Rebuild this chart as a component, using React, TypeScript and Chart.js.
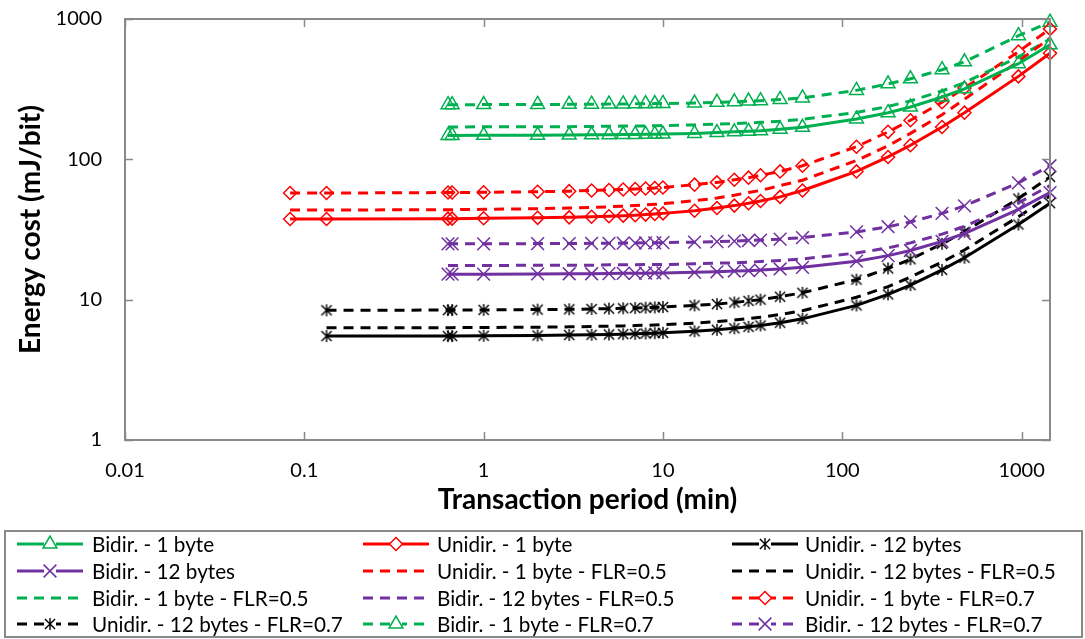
import React, { useEffect, useRef } from 'react';
import { Chart, registerables } from 'chart.js';
import { drawPoint } from 'chart.js/helpers';
Chart.register(...registerables);

// ---- data ----
const xUni1 = [0.0833, 0.133, 0.633, 0.667, 1, 2, 3, 4, 5, 6, 7, 8, 9, 10, 15, 20, 25, 30, 35, 45, 60, 120, 180, 240, 360, 480, 960, 1440];
const xUni12 = [0.133, 0.633, 0.667, 1, 2, 3, 4, 5, 6, 7, 8, 9, 10, 15, 20, 25, 30, 35, 45, 60, 120, 180, 240, 360, 480, 960, 1440];
const xBidir = [0.633, 0.667, 1, 2, 3, 4, 5, 6, 7, 8, 9, 10, 15, 20, 25, 30, 35, 45, 60, 120, 180, 240, 360, 480, 960, 1440];

const bidir1 = [148, 148, 148.3, 148.7, 149, 149.4, 149.7, 150, 150.5, 150.8, 151, 151.5, 153, 155, 157, 158.5, 160, 164, 169, 194, 215, 236, 278, 318, 480, 655];
const uni1 = [37.6, 37.6, 37.8, 37.8, 38, 38.3, 38.6, 39, 39.3, 39.7, 40, 40.4, 40.8, 41.2, 43, 45, 46.8, 48.6, 50.5, 54, 60, 82, 104, 126, 170, 215, 390, 570];
const uni12 = [5.5, 5.5, 5.5, 5.53, 5.56, 5.6, 5.62, 5.65, 5.68, 5.71, 5.74, 5.77, 5.8, 5.95, 6.1, 6.25, 6.4, 6.55, 6.85, 7.3, 9.1, 10.9, 12.7, 16.3, 19.9, 34.3, 48.7];
const bidir12 = [15.2, 15.2, 15.2, 15.25, 15.3, 15.3, 15.35, 15.4, 15.4, 15.45, 15.5, 15.5, 15.65, 15.8, 16, 16.1, 16.25, 16.55, 17, 18.8, 20.6, 22.4, 26, 29.6, 44, 58];
const uni1F5 = [43.5, 43.5, 43.8, 43.8, 44, 44.5, 45, 45.4, 45.9, 46.4, 46.9, 47.3, 47.8, 48.3, 50.7, 53, 55.5, 58, 60, 65, 71, 98, 125, 153, 208, 268, 500, 730];
const uni12F5 = [6.3, 6.32, 6.32, 6.33, 6.37, 6.4, 6.44, 6.47, 6.5, 6.54, 6.57, 6.6, 6.64, 6.8, 6.98, 7.15, 7.32, 7.5, 7.83, 8.34, 10.4, 12.4, 14.5, 18.5, 22.6, 39, 55];
const bidir1F5 = [170, 170, 170.5, 171, 171, 171.5, 172, 172.5, 173, 173, 173.5, 174, 176, 178, 180, 181.5, 183.5, 187, 193, 216, 238, 261, 307, 352, 535, 720];
const bidir12F5 = [17.5, 17.5, 17.5, 17.6, 17.6, 17.6, 17.7, 17.7, 17.7, 17.8, 17.8, 17.8, 18, 18.2, 18.3, 18.5, 18.7, 19, 19.5, 21.5, 23.4, 25.4, 29.3, 33.3, 49, 65];
const uni1F7 = [57.5, 57.5, 58, 58, 58.2, 58.8, 59.3, 60, 60.5, 61, 61.5, 62, 62.5, 63, 66, 68.5, 71.5, 74, 77, 82, 90, 123, 157, 190, 255, 322, 585, 850];
const uni12F7 = [8.4, 8.43, 8.43, 8.45, 8.5, 8.54, 8.58, 8.63, 8.68, 8.72, 8.77, 8.81, 8.86, 9.1, 9.3, 9.55, 9.8, 10, 10.5, 11.2, 13.9, 16.7, 19.4, 25, 30.5, 52.5, 75];
const bidir1F7 = [245, 245, 245.5, 246, 246.5, 247, 247.5, 248, 248.5, 249, 249.5, 250, 252, 255, 257, 260, 262, 267, 274, 310, 345, 375, 435, 495, 760, 950];
const bidir12F7 = [25, 25, 25, 25.1, 25.1, 25.2, 25.2, 25.3, 25.3, 25.4, 25.4, 25.5, 25.7, 25.9, 26.1, 26.4, 26.6, 27, 27.7, 30.4, 33.1, 35.8, 41.2, 46.6, 68, 90];

const xTickValues = [0.01, 0.1, 1, 10, 100, 1000];
const xTickLabels = ['0.01', '0.1', '1', '10', '100', '1000'];
const yTickValues = [1, 10, 100, 1000];
const yTickLabels = ['1', '10', '100', '1000'];

const GREEN = '#00B050';
const RED = '#FF0000';
const PURPLE = '#7030A0';
const BLACK = '#000000';
const GRAY = '#898989';
const FONT = 'Lato, "Noto Sans", sans-serif';

function makeAsterisk(color: string) {
  const s = 14;
  const c = document.createElement('canvas');
  c.width = s;
  c.height = s;
  const ctx = c.getContext('2d')!;
  ctx.strokeStyle = color;
  ctx.lineWidth = 1.4;
  const m = s / 2;
  const r = 6;
  ctx.beginPath();
  ctx.moveTo(m, m - r);
  ctx.lineTo(m, m + r);
  const d = r * 0.85;
  ctx.moveTo(m - d, m - d);
  ctx.lineTo(m + d, m + d);
  ctx.moveTo(m + d, m - d);
  ctx.lineTo(m - d, m + d);
  ctx.stroke();
  return c;
}

type Spec = {
  label: string;
  xs: number[];
  ys: number[];
  color: string;
  dashed: boolean;
  marker: string | null;
};

const specs: Spec[] = [
  { label: 'Bidir. - 1 byte', xs: xBidir, ys: bidir1, color: GREEN, dashed: false, marker: 'triangle' },
  { label: 'Unidir. - 1 byte', xs: xUni1, ys: uni1, color: RED, dashed: false, marker: 'diamond' },
  { label: 'Unidir. - 12 bytes', xs: xUni12, ys: uni12, color: BLACK, dashed: false, marker: 'asterisk' },
  { label: 'Bidir. - 12 bytes', xs: xBidir, ys: bidir12, color: PURPLE, dashed: false, marker: 'x' },
  { label: 'Unidir. - 1 byte - FLR=0.5', xs: xUni1, ys: uni1F5, color: RED, dashed: true, marker: null },
  { label: 'Unidir. - 12 bytes - FLR=0.5', xs: xUni12, ys: uni12F5, color: BLACK, dashed: true, marker: null },
  { label: 'Bidir. - 1 byte - FLR=0.5', xs: xBidir, ys: bidir1F5, color: GREEN, dashed: true, marker: null },
  { label: 'Bidir. - 12 bytes - FLR=0.5', xs: xBidir, ys: bidir12F5, color: PURPLE, dashed: true, marker: null },
  { label: 'Unidir. - 1 byte - FLR=0.7', xs: xUni1, ys: uni1F7, color: RED, dashed: true, marker: 'diamond' },
  { label: 'Unidir. - 12 bytes - FLR=0.7', xs: xUni12, ys: uni12F7, color: BLACK, dashed: true, marker: 'asterisk' },
  { label: 'Bidir. - 1 byte - FLR=0.7', xs: xBidir, ys: bidir1F7, color: GREEN, dashed: true, marker: 'triangle' },
  { label: 'Bidir. - 12 bytes - FLR=0.7', xs: xBidir, ys: bidir12F7, color: PURPLE, dashed: true, marker: 'x' },
];

function markerOpts(marker: string | null, color: string) {
  if (marker === 'triangle') return { pointStyle: 'triangle' as any, radius: 8 };
  if (marker === 'diamond') return { pointStyle: 'rectRot' as any, radius: 6.5 };
  if (marker === 'x') return { pointStyle: 'crossRot' as any, radius: 9 };
  if (marker === 'asterisk') return { pointStyle: makeAsterisk(color) as any, radius: 7 };
  return { pointStyle: false as any, radius: 0 };
}

const DASH = [10, 7];

export default function App() {
  const ref = useRef<HTMLCanvasElement | null>(null);
  useEffect(() => {
    if (!ref.current) return;
    const prepared = specs.map((s) => ({ ...s, m: markerOpts(s.marker, s.color) }));

    const framePlugin = {
      id: 'frame',
      afterDatasetsDraw(chart: any) {
        const { ctx, chartArea: a, scales } = chart;
        ctx.save();
        ctx.strokeStyle = GRAY;
        ctx.lineWidth = 1.5;
        ctx.setLineDash([]);
        for (const v of xTickValues) {
          const px = Math.round(scales.x.getPixelForValue(v)) + 0.5;
          ctx.beginPath();
          ctx.moveTo(px, a.bottom);
          ctx.lineTo(px, a.bottom - 8);
          ctx.moveTo(px, a.top);
          ctx.lineTo(px, a.top + 8);
          ctx.stroke();
        }
        for (const v of yTickValues) {
          const py = Math.round(scales.y.getPixelForValue(v)) + 0.5;
          ctx.beginPath();
          ctx.moveTo(a.left, py);
          ctx.lineTo(a.left + 8, py);
          ctx.moveTo(a.right, py);
          ctx.lineTo(a.right - 8, py);
          ctx.stroke();
        }
        ctx.lineWidth = 2;
        ctx.strokeRect(a.left, a.top, a.right - a.left, a.bottom - a.top);
        ctx.restore();
      },
      afterDraw(chart: any) {
        const { ctx } = chart;
        ctx.save();
        ctx.strokeStyle = GRAY;
        ctx.lineWidth = 2;
        ctx.strokeRect(5, 531, 1077, 106);
        const colX = [17, 363, 732];
        const textX = [92, 437, 805];
        const rowY = [544, 571, 598, 624];
        const sampleLen = 66;
        ctx.font = `20.7px ${FONT}`;
        ctx.textBaseline = 'middle';
        ctx.textAlign = 'left';
        prepared.forEach((s, i) => {
          const col = i % 3;
          const row = Math.floor(i / 3);
          const x0 = colX[col];
          const y = rowY[row];
          ctx.strokeStyle = s.color;
          ctx.lineWidth = 3;
          ctx.setLineDash(s.dashed ? DASH : []);
          ctx.beginPath();
          ctx.moveTo(x0, y);
          ctx.lineTo(x0 + sampleLen, y);
          ctx.stroke();
          ctx.setLineDash([]);
          if (s.marker) {
            const cx = x0 + sampleLen / 2;
            ctx.fillStyle = '#ffffff';
            ctx.fillRect(cx - 6, y - 6, 12, 12);
            ctx.strokeStyle = s.color;
            ctx.fillStyle = 'rgba(0,0,0,0)';
            ctx.lineWidth = 1.5;
            drawPoint(ctx, { pointStyle: s.m.pointStyle, radius: s.m.radius, rotation: 0, borderWidth: 1.5 } as any, cx, y);
          }
          ctx.fillStyle = '#000000';
          ctx.fillText(s.label, textX[col], y + 1);
        });
        ctx.restore();
      },
    };

    const chart = new Chart(ref.current, {
      type: 'line',
      data: {
        datasets: prepared.map((s) => ({
          label: s.label,
          data: s.xs.map((x, i) => ({ x, y: s.ys[i] })),
          borderColor: s.color,
          backgroundColor: 'rgba(0,0,0,0)',
          borderWidth: 3,
          borderDash: s.dashed ? DASH : [],
          pointStyle: s.m.pointStyle,
          pointRadius: s.m.radius,
          pointBorderWidth: 1.5,
          pointBorderColor: s.color,
          pointBackgroundColor: 'rgba(0,0,0,0)',
          tension: 0,
          fill: false,
          clip: false as any,
        })),
      },
      options: {
        animation: false,
        responsive: false,
        events: [],
        layout: { padding: { top: 19, right: 35, bottom: 109, left: 0 } },
        plugins: { legend: { display: false }, tooltip: { enabled: false } },
        scales: {
          x: {
            type: 'logarithmic',
            min: 0.01,
            max: 1440,
            grid: { display: false, drawTicks: false, tickLength: 0 },
            border: { display: false },
            afterBuildTicks: (scale: any) => {
              scale.ticks = xTickValues.map((v) => ({ value: v }));
            },
            afterFit: (scale: any) => {
              scale.height = 90;
              scale.paddingLeft = 0;
              scale.paddingRight = 0;
            },
            ticks: {
              autoSkip: false,
              maxRotation: 0,
              padding: 19,
              color: '#000000',
              font: { family: FONT, size: 20 },
              callback: (v: any) => {
                const i = xTickValues.indexOf(Number(v));
                return i >= 0 ? xTickLabels[i] : '';
              },
            },
            title: {
              display: true,
              text: 'Transaction period (min)',
              color: '#000000',
              font: { family: FONT, size: 28, weight: 'bold' },
              padding: { top: 13, bottom: 13 },
            },
          },
          y: {
            type: 'logarithmic',
            min: 1,
            max: 1000,
            grid: { display: false, drawTicks: false, tickLength: 0 },
            border: { display: false },
            afterBuildTicks: (scale: any) => {
              scale.ticks = yTickValues.map((v) => ({ value: v }));
            },
            afterFit: (scale: any) => {
              scale.width = 125;
              scale.paddingTop = 0;
              scale.paddingBottom = 0;
            },
            ticks: {
              autoSkip: false,
              padding: 23,
              color: '#000000',
              font: { family: FONT, size: 20 },
              callback: (v: any) => {
                const i = yTickValues.indexOf(Number(v));
                return i >= 0 ? yTickLabels[i] : '';
              },
            },
            title: {
              display: true,
              text: 'Energy cost (mJ/bit)',
              color: '#000000',
              font: { family: FONT, size: 28, weight: 'bold' },
              padding: { top: 14, bottom: 14 },
            },
          },
        },
      },
      plugins: [framePlugin],
    } as any);
    return () => chart.destroy();
  }, []);

  return (
    <div style={{ position: 'fixed', left: 0, top: 0, width: 1085, height: 639, background: '#ffffff' }}>
      <canvas ref={ref} width={1085} height={639} style={{ display: 'block', width: 1085, height: 639 }} />
    </div>
  );
}
